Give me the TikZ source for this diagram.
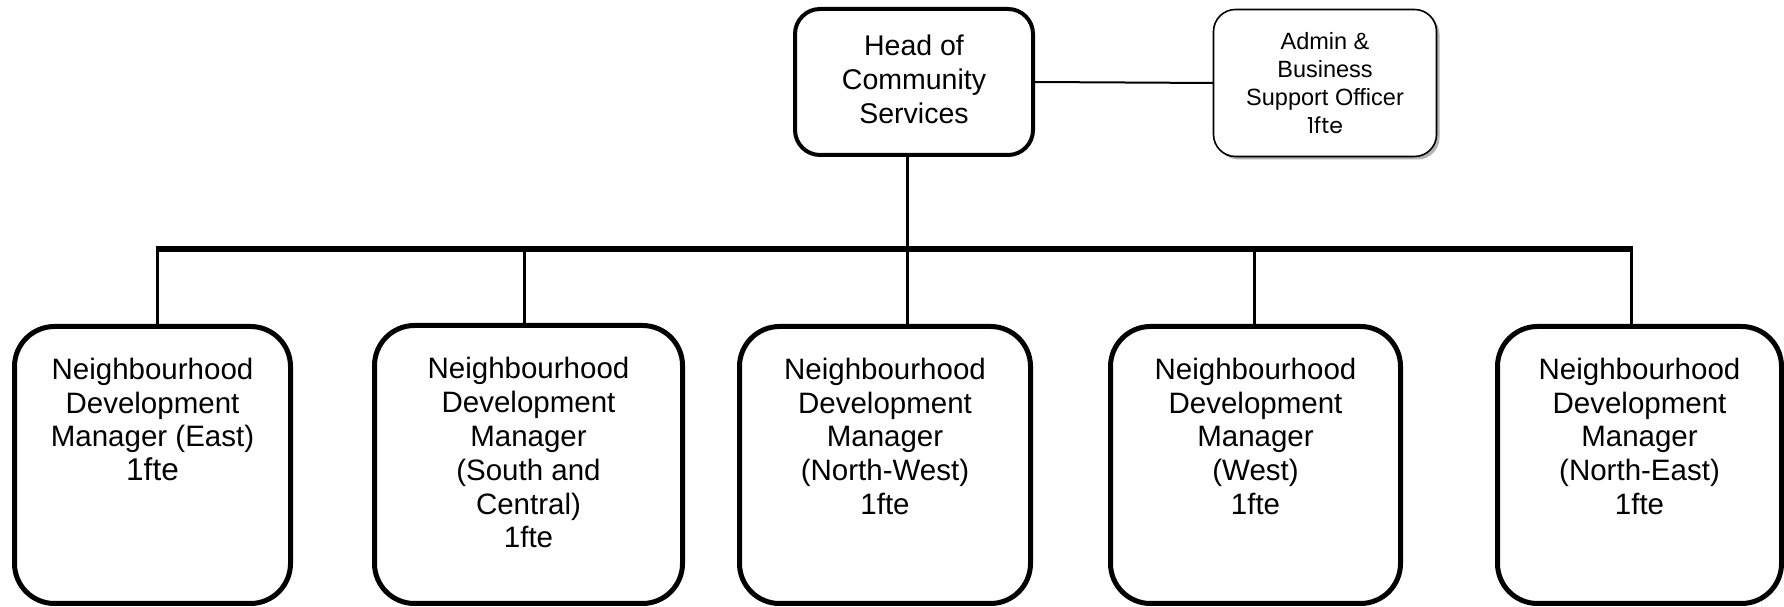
\documentclass[tikz,border=0pt]{standalone}
\usepackage{fontspec}
\setmainfont{Liberation Sans}
\newfontfamily\gothic{Poppins}
\usetikzlibrary{calc,shadows}
\begin{document}
\begin{tikzpicture}[x=1pt,y=1pt,
  every node/.style={inner sep=0pt, outer sep=0pt},
  headbox/.style={draw, line width=4pt, rounded corners=25pt,
    minimum width=238pt, minimum height=146pt},
  headtext/.style={align=center, font=\fontsize{28.5}{34}\selectfont},
  adminbox/.style={draw, line width=1.6pt, rounded corners=22pt, fill=white,
    minimum width=223pt, minimum height=147pt, align=center,
    font=\fontsize{23.5}{27.8}\selectfont,
    general shadow={fill=black!30, shadow xshift=3pt, shadow yshift=-3pt}},
  mgrbox/.style={draw, line width=5pt, rounded corners=40pt, minimum height=277pt},
  mgrtext/.style={anchor=north, align=center, font=\fontsize{29.5}{33.8}\selectfont},
  bus/.style={line width=5.5pt},
  link/.style={line width=3pt},
  sidelink/.style={line width=2pt}]

\useasboundingbox (0,0) rectangle (1784,607);

% top level
\node[headbox] (head) at (914,525) {};
\node[headtext] (headtxt) at ($(head.center)+(0,3)$) {Head of\\Community\\Services};
\node[adminbox] (admin) at (1325,524) {Admin \&\\Business\\Support Officer\\{\gothic\fontsize{22}{27.8}\selectfont 1fte}};
\draw[sidelink] (head.east) -- (admin.west);

% managers
\node[mgrbox, minimum width=276pt] (b1) at (152.5,142) {};
\node[mgrbox, minimum width=308pt, minimum height=278pt] (b2) at (528.5,142.5) {};
\node[mgrbox, minimum width=291pt] (b3) at (885,142) {};
\node[mgrbox, minimum width=290pt] (b4) at (1255.5,142) {};
\node[mgrbox, minimum width=284pt] (b5) at (1639.5,142) {};

\node[mgrtext] (t1) at ($(b1.north)+(0,-31.5)$) {Neighbourhood\\Development\\Manager (East)\\{\fontsize{31.5}{33.8}\selectfont 1fte}};
\node[mgrtext] (t2) at ($(b2.north)+(0,-32)$) {Neighbourhood\\Development\\Manager\\(South and\\Central)\\1fte};
\node[mgrtext] (t3) at ($(b3.north)+(0,-31.5)$) {Neighbourhood\\Development\\Manager\\(North-West)\\1fte};
\node[mgrtext] (t4) at ($(b4.north)+(0,-31.5)$) {Neighbourhood\\Development\\Manager\\(West)\\1fte};
\node[mgrtext] (t5) at ($(b5.north)+(0,-31.5)$) {Neighbourhood\\Development\\Manager\\(North-East)\\1fte};

% connectors
\coordinate (d1) at (157,358);
\coordinate (d2) at (524,358);
\coordinate (d3) at (907,358);
\coordinate (d4) at (1254,358);
\coordinate (d5) at (1631,358);
\draw[bus] ($(d1)+(-1.5,0)$) -- ($(d5)+(1.5,0)$);
\draw[link] (d3 |- head.south) -- (d3);
\foreach \i in {1,...,5}{
  \draw[link] ($(d\i)+(0,2.5)$) -- (d\i |- b\i.north);
}
\end{tikzpicture}
\end{document}
